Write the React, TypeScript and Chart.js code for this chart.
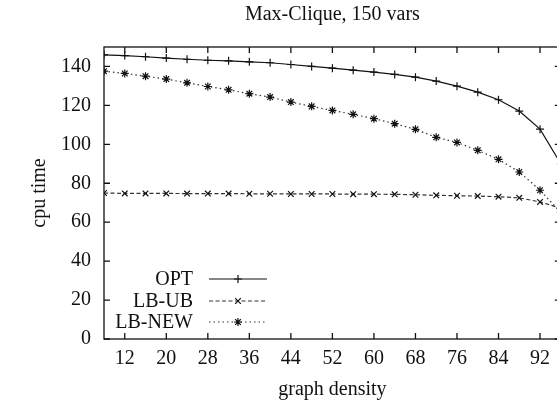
import React, { useEffect, useRef } from "react";
import { Chart, registerables } from "chart.js";
import { drawPoint } from "chart.js/helpers";

Chart.register(...registerables);

const chartTitle = "Max-Clique, 150 vars";
const xAxisLabel = "graph density";
const yAxisLabel = "cpu time";

const densities = [8, 12, 16, 20, 24, 28, 32, 36, 40, 44, 48, 52, 56, 60, 64, 68, 72, 76, 80, 84, 88, 92, 96];
const optValues = [146, 145.6, 145, 144.3, 143.7, 143.2, 142.9, 142.4, 141.9, 141, 140, 139.1, 138.1, 137.1, 135.9, 134.5, 132.5, 129.9, 126.8, 122.9, 117.1, 107.8, 90];
const lbUbValues = [75, 74.8, 74.8, 74.8, 74.7, 74.7, 74.7, 74.6, 74.6, 74.5, 74.5, 74.5, 74.4, 74.4, 74.3, 74.1, 73.8, 73.6, 73.4, 73.1, 72.5, 70.4, 67.2];
const lbNewValues = [137.6, 136.4, 135, 133.5, 131.6, 129.7, 128, 126, 124.3, 121.7, 119.5, 117.4, 115.4, 113.2, 110.6, 107.7, 103.6, 101, 96.9, 92.3, 85.8, 76.4, 65];

const seriesNames = ["OPT", "LB-UB", "LB-NEW"];
const xTickValues = [12, 20, 28, 36, 44, 52, 60, 68, 76, 84, 92];
const yTickValues = [0, 20, 40, 60, 80, 100, 120, 140];

const FONT = "'Liberation Serif', 'Times New Roman', serif";
const INK = "#111";

const framePlugin = {
  id: "gnuplotFrame",
  afterDraw(chart: any) {
    const { ctx, chartArea } = chart;
    const { left, right, top, bottom } = chartArea;
    const xs = chart.scales.x;
    const ys = chart.scales.y;
    const tl = 6;
    ctx.save();
    ctx.strokeStyle = INK;
    ctx.lineWidth = 1.3;
    ctx.setLineDash([]);
    ctx.strokeRect(left, top, right - left, bottom - top);
    ctx.beginPath();
    xTickValues.forEach((v) => {
      const px = xs.getPixelForValue(v);
      ctx.moveTo(px, bottom);
      ctx.lineTo(px, bottom - tl);
      ctx.moveTo(px, top);
      ctx.lineTo(px, top + tl);
    });
    yTickValues.forEach((v) => {
      const py = ys.getPixelForValue(v);
      ctx.moveTo(left, py);
      ctx.lineTo(left + tl, py);
      ctx.moveTo(right, py);
      ctx.lineTo(right - tl, py);
    });
    ctx.stroke();

    // title centered over plot
    ctx.fillStyle = INK;
    ctx.font = `20px ${FONT}`;
    ctx.textAlign = "center";
    ctx.textBaseline = "middle";
    ctx.fillText(chartTitle, (left + right) / 2, 15);

    // gnuplot-style legend
    const rows = [bottom - 60, bottom - 38, bottom - 17];
    chart.data.datasets.forEach((ds: any, i: number) => {
      const y = rows[i];
      ctx.fillStyle = INK;
      ctx.textAlign = "right";
      ctx.fillText(ds.label, left + 89, y + 1);
      ctx.beginPath();
      ctx.strokeStyle = ds.borderColor;
      ctx.lineWidth = ds.borderWidth;
      ctx.setLineDash(ds.borderDash || []);
      ctx.moveTo(left + 105, y);
      ctx.lineTo(left + 163, y);
      ctx.stroke();
      ctx.setLineDash([]);
      ctx.strokeStyle = INK;
      ctx.fillStyle = INK;
      ctx.lineWidth = 1.2;
      drawPoint(ctx, { pointStyle: ds.pointStyle, radius: ds.pointRadius, borderWidth: 1.2, rotation: 0 }, left + 134, y);
    });
    ctx.restore();
  },
};

export default function App() {
  const canvasRef = useRef<HTMLCanvasElement | null>(null);

  useEffect(() => {
    const canvas = canvasRef.current;
    if (!canvas) return;
    const mk = (label: string, data: number[], style: string, dash: number[], color: string) => ({
      label,
      data: densities.map((d, i) => ({ x: d, y: data[i] })),
      borderColor: color,
      backgroundColor: color,
      borderWidth: 1.2,
      borderDash: dash,
      pointStyle: style,
      pointRadius: 4,
      pointBorderColor: INK,
      pointBackgroundColor: INK,
      pointBorderWidth: 1.2,
      tension: 0,
      fill: false,
    });
    const chart = new Chart(canvas, {
      type: "line",
      data: {
        datasets: [
          mk(seriesNames[0], optValues, "cross", [], "#111"),
          mk(seriesNames[1], lbUbValues, "crossRot", [4, 2.5], "#333"),
          mk(seriesNames[2], lbNewValues, "star", [1.5, 3], "#333"),
        ],
      },
      options: {
        animation: false,
        responsive: false,
        devicePixelRatio: 1,
        layout: { padding: { left: 0, top: 47, right: 5, bottom: 0 } },
        plugins: { legend: { display: false }, tooltip: { enabled: false }, title: { display: false } },
        scales: {
          x: {
            type: "linear",
            min: 8,
            max: 96,
            afterBuildTicks: (scale: any) => {
              scale.ticks = xTickValues.map((v) => ({ value: v }));
            },
            afterFit: (scale: any) => {
              scale.height = 70;
            },
            grid: { display: false, drawTicks: false },
            border: { display: false },
            ticks: { color: INK, font: { family: FONT, size: 20 }, padding: 8, maxRotation: 0, autoSkip: false },
            title: { display: true, text: xAxisLabel, color: INK, font: { family: FONT, size: 20 }, padding: { top: 0, bottom: 7 } },
          },
          y: {
            type: "linear",
            min: 0,
            max: 150,
            afterBuildTicks: (scale: any) => {
              scale.ticks = yTickValues.map((v) => ({ value: v }));
            },
            afterFit: (scale: any) => {
              scale.width = 104;
            },
            grid: { display: false, drawTicks: false },
            border: { display: false },
            ticks: { color: INK, font: { family: FONT, size: 20 }, padding: 13 },
            title: { display: true, text: yAxisLabel, color: INK, font: { family: FONT, size: 20 }, padding: { top: 28, bottom: 0 } },
          },
        },
      },
      plugins: [framePlugin],
    } as any);
    return () => chart.destroy();
  }, []);

  return (
    <div style={{ position: "fixed", left: 0, top: 0, width: 557, height: 409, overflow: "hidden", background: "#fff" }}>
      <canvas ref={canvasRef} width={566} height={409} style={{ display: "block" }} />
    </div>
  );
}
